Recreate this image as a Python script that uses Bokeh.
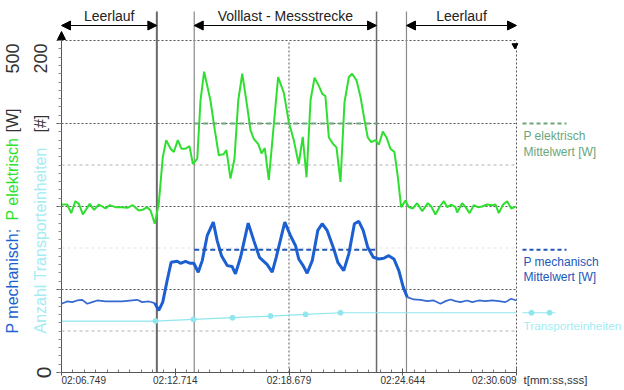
import numpy as np
from math import pi
from bokeh.plotting import figure
from bokeh.models import Range1d, FixedTicker, Label, Arrow, NormalHead
from bokeh.embed import file_html
from bokeh.resources import INLINE

# ---------------- data ----------------
tick_seconds = [0.0, 5.965, 11.93, 17.895, 23.86]
tick_labels = ["02:06.749", "02:12.714", "02:18.679", "02:24.644", "02:30.609"]

t_el = [0.00, 0.30, 0.51, 0.73, 0.91, 1.12, 1.48, 1.71, 1.96, 2.31,
        2.52, 2.83, 3.18, 3.45, 3.74, 4.05, 4.26, 4.49, 4.67, 4.89,
        5.10, 5.31, 5.49, 5.72, 5.89, 6.10, 6.29, 6.50, 6.71, 6.89,
        7.12, 7.29, 7.48, 7.81, 8.04, 8.25, 8.51, 8.65, 8.86, 9.07,
        9.27, 9.48, 9.74, 9.91, 10.08, 10.32, 10.49, 10.66, 10.87, 11.13,
        11.36, 11.66, 11.92, 12.18, 12.44, 12.65, 12.85, 13.06, 13.27, 13.49,
        13.67, 13.84, 14.02, 14.25, 14.42, 14.63, 14.84, 15.07, 15.24, 15.47,
        15.68, 15.89, 16.06, 16.24, 16.47, 16.64, 16.85, 17.04, 17.25, 17.46,
        17.64, 17.81, 18.04, 18.21, 18.42, 18.65, 18.92, 19.21, 19.39, 19.61,
        19.84, 20.05, 20.23, 20.44, 20.66, 20.75, 21.01, 21.19, 21.40, 21.62,
        21.83, 22.06, 22.32, 22.59, 22.76, 22.93, 23.16, 23.37, 23.58, 23.81]
p_el = [253, 253, 240, 258, 254, 238, 254, 245, 253, 247,
        252, 249, 249, 248, 252, 244, 245, 249, 244, 224,
        254, 324, 350, 337, 332, 350, 337, 337, 341, 314,
        322, 410, 453, 410, 365, 327, 329, 335, 292, 322,
        410, 450, 400, 365, 352, 344, 330, 338, 290, 372,
        445, 421, 377, 350, 314, 355, 294, 410, 444, 432,
        420, 416, 354, 344, 339, 287, 407, 445, 450, 440,
        415, 380, 354, 347, 350, 343, 363, 354, 337, 332,
        294, 249, 259, 249, 247, 255, 243, 255, 250, 238,
        250, 258, 249, 253, 249, 241, 255, 249, 240, 252,
        249, 250, 253, 252, 253, 240, 253, 258, 247, 250]

t_mech = [0.00, 0.30, 0.56, 0.82, 1.09, 1.35, 1.61, 1.87, 2.31, 3.18,
          3.97, 4.23, 4.58, 4.89, 5.10, 5.31, 5.54, 5.75, 6.07, 6.24,
          6.50, 6.76, 6.94, 7.17, 7.38, 7.64, 7.96, 8.16, 8.39, 8.69,
          8.95, 9.12, 9.39, 9.79, 10.08, 10.38, 10.79, 11.05, 11.26, 11.71,
          12.01, 12.27, 12.44, 12.67, 12.88, 13.15, 13.44, 13.67, 13.93, 14.28,
          14.49, 14.80, 15.07, 15.36, 15.59, 15.82, 16.06, 16.35, 16.64, 16.90,
          17.16, 17.43, 17.69, 17.92, 18.13, 18.47, 18.83, 19.18, 19.52, 19.87,
          20.14, 20.40, 20.66, 20.92, 21.27, 21.54, 21.88, 22.23, 22.59, 22.93,
          23.28, 23.58, 23.86]
p_mech = [103.5, 107, 106, 108.5, 109.5, 103.5, 106, 108.5, 107, 107,
          109.5, 106, 107, 104.5, 93.5, 106, 138.5, 166, 167.5, 164.5,
          167.5, 164.5, 164.5, 151, 168.5, 206, 226.5, 199, 176, 161,
          159.5, 148.5, 173.5, 225, 199, 173.5, 162.5, 151, 173.5, 226.5,
          206, 191, 171, 161, 149.5, 168.5, 214, 224, 214, 186,
          166, 153.5, 179, 224, 227.5, 214, 188.5, 173.5, 171, 172,
          176, 171, 153.5, 128.5, 113.5, 110, 109.5, 107.5, 108.5, 103.5,
          107.5, 110, 107.5, 106, 108.5, 106, 108.5, 107.5, 108.5, 107.5,
          106, 111, 108.5]

t_tu = [0.0, 4.93, 6.92, 8.97, 10.96, 12.80, 14.63, 23.86]
n_tu = [31, 31, 32, 33, 34, 35, 36, 36]
tu_marked = [1, 2, 3, 4, 5, 6]          # samples drawn with a dot

phase_bounds = [5.0, 6.96, 16.52, 18.09]
phase_names = ["Leerlauf", "Volllast - Messstrecke", "Leerlauf"]
phase_spans = [(0.0, 5.0), (6.96, 16.52), (18.09, 23.86)]

mean_el = 375
mean_mech = 185
mean_span = (6.96, 16.6)

P_MAX = 500
TU_MAX = 200

# ---------------- layout helpers ----------------
W, H = 624, 390
AX_LEFT, AX_RIGHT = 61, 516        # pixel columns of t=0 and t=T_END
AX_TOP, AX_BOTTOM = 40, 372        # pixel rows of P_MAX and 0
T_END = tick_seconds[-1]
ppx = (AX_RIGHT - AX_LEFT) / T_END
ppw = (AX_BOTTOM - AX_TOP) / P_MAX


def rx(win_x):      # pixel column -> seconds
    return (win_x - AX_LEFT) / ppx


def ry(win_y):      # pixel row -> watts
    return (AX_BOTTOM - win_y) / ppw


FONT = "Liberation Sans"
GREEN = "#2fdf2f"
BLUE = "#1b5fd0"
BLUE_IDLE = "#3569cf"
CYAN = "#8fe6ee"
CYAN_TXT = "#a3ecf2"
MEAN_GREEN = "#6aa67a"
MEAN_BLUE = "#2057b8"
DARK = "#333333"

p = figure(width=W, height=H, x_range=Range1d(rx(0), rx(W)), y_range=Range1d(ry(H), ry(0)),
           output_backend="svg", toolbar_location=None,
           min_border_left=0, min_border_right=0, min_border_top=0, min_border_bottom=0)
p.extra_y_ranges = {"tu": Range1d(ry(H) * TU_MAX / P_MAX, ry(0) * TU_MAX / P_MAX)}
p.outline_line_color = None
p.grid.visible = False
p.background_fill_color = "white"
p.border_fill_color = "white"

# axes (placed inside the canvas at t=0 / P=0)
minor_x = []
for a, b in zip(tick_seconds[:-1], tick_seconds[1:]):
    minor_x += list(np.linspace(a, b, 11)[1:-1])
xax = p.xaxis[0]
xax.fixed_location = 0
xax.ticker = FixedTicker(ticks=tick_seconds, minor_ticks=minor_x)
xax.bounds = (0, T_END)
xax.major_label_overrides = {t: "" for t in tick_seconds}
xax.major_tick_in = 4
xax.major_tick_out = 3
xax.minor_tick_in = 3
xax.minor_tick_out = 0
xax.axis_line_color = "#555555"
xax.major_tick_line_color = "#555555"
xax.minor_tick_line_color = "#777777"

y_major = [0, 125, 250, 375, 500]
yax = p.yaxis[0]
yax.fixed_location = 0
yax.ticker = FixedTicker(ticks=y_major, minor_ticks=list(np.arange(0, P_MAX + 1, 12.5)))
yax.bounds = (0, P_MAX)
yax.major_label_overrides = {v: "" for v in y_major}
yax.major_tick_in = 0
yax.major_tick_out = 5
yax.minor_tick_in = 0
yax.minor_tick_out = 3
yax.axis_line_color = "#555555"
yax.major_tick_line_color = "#555555"
yax.minor_tick_line_color = "#888888"

# grid lines
dark_levels = [125, 250, 375, 500]
light_levels = [62.5, 187.5, 312.5]
light_colors = ["#b0b0b0", "#e2e2e2", "#b0b0b0"]
p.segment(x0=[0] * 4, x1=[T_END] * 4, y0=dark_levels, y1=dark_levels,
          line_color="#555555", line_dash="2 2", line_width=1)
p.segment(x0=[0] * 3, x1=[T_END] * 3, y0=light_levels, y1=light_levels,
          line_color=light_colors, line_dash="3 3", line_width=1)
vgrid = [tick_seconds[2], tick_seconds[4]]
p.segment(x0=vgrid, x1=vgrid, y0=[0, 0], y1=[P_MAX, P_MAX],
          line_color="#555555", line_dash="2 2", line_width=1)

# phase boundaries
p.segment(x0=phase_bounds, x1=phase_bounds, y0=[0] * 4, y1=[ry(11)] * 4,
          line_color=["#6a6a6a", "#8a8a8a", "#6a6a6a", "#8a8a8a"],
          line_width=[2, 1.2, 1.5, 1.2])

# phase arrows + names
for (a, b), name in zip(phase_spans, phase_names):
    p.add_layout(Arrow(x_start=a, x_end=b, y_start=ry(25), y_end=ry(25),
                       start=NormalHead(size=9, fill_color="black", line_color="black"),
                       end=NormalHead(size=9, fill_color="black", line_color="black"),
                       line_color="black", line_width=1))
    p.add_layout(Label(x=(a + b) / 2, y=ry(15), text=name, text_align="center",
                       text_baseline="middle", text_font=FONT, text_font_size="14px",
                       text_color="#222222"))

# y-axis arrow head and right marker
p.add_layout(Arrow(x_start=0, x_end=0, y_start=P_MAX, y_end=ry(31), start=None,
                   end=NormalHead(size=8, fill_color="black", line_color="black"),
                   line_color="#555555", line_width=1))
p.scatter([rx(AX_RIGHT - 1.5)], [ry(45)], marker="inverted_triangle", size=6, color="black")

# transport units (secondary scale)
p.line(t_tu, n_tu, y_range_name="tu", line_color=CYAN, line_width=1.2)
p.scatter([t_tu[i] for i in tu_marked], [n_tu[i] for i in tu_marked], y_range_name="tu",
          size=5, color=CYAN)

# electrical power
p.line(t_el, p_el, line_color=GREEN, line_width=2)

# mechanical power (thicker in the load phase)
tm = np.array(t_mech)
pm = np.array(p_mech)
idle1 = tm <= 4.9
load = (tm >= 4.89) & (tm <= 18.14)
idle2 = tm >= 18.13
p.line(tm[idle1], pm[idle1], line_color=BLUE_IDLE, line_width=1.7)
p.line(tm[idle2], pm[idle2], line_color=BLUE_IDLE, line_width=1.7)
p.line(tm[load], pm[load], line_color=BLUE, line_width=3)

# means
p.line(list(mean_span), [mean_el, mean_el], line_color=MEAN_GREEN, line_dash="5 4", line_width=2)
p.line(list(mean_span), [mean_mech, mean_mech], line_color=MEAN_BLUE, line_dash="5 3", line_width=2)

# right-hand legend
lx0, lx1 = rx(522), rx(566)
p.line([lx0, lx1], [mean_el, mean_el], line_color=MEAN_GREEN, line_dash="4 3", line_width=2)
p.line([lx0, lx1], [mean_mech, mean_mech], line_color=MEAN_BLUE, line_dash="4 3", line_width=2)
p.line([lx0, rx(555)], [n_tu[-1], n_tu[-1]], y_range_name="tu", line_color=CYAN, line_width=1.2)
p.scatter([rx(531), rx(549)], [n_tu[-1], n_tu[-1]], y_range_name="tu", size=5, color=CYAN)


def legend_text(txt, y, color, size="12px"):
    p.add_layout(Label(x=rx(523), y=y, text=txt, text_align="left", text_baseline="middle",
                       text_font=FONT, text_font_size=size, text_color=color))


legend_text("P elektrisch", ry(135), MEAN_GREEN)
legend_text("Mittelwert [W]", ry(151), MEAN_GREEN)
legend_text("P mechanisch", ry(261), MEAN_BLUE)
legend_text("Mittelwert [W]", ry(276), MEAN_BLUE)
legend_text("Transporteinheiten", ry(325), CYAN_TXT, size="11.8px")

# x tick labels and axis title
for i, (t, lab) in enumerate(zip(tick_seconds, tick_labels)):
    align = "left" if i == 0 else ("right" if i == len(tick_seconds) - 1 else "center")
    p.add_layout(Label(x=t, y=ry(374), text=lab, text_align=align, text_baseline="top",
                       text_font=FONT, text_font_size="10px", text_color=DARK))
p.add_layout(Label(x=rx(523), y=ry(373), text="t[mm:ss,sss]", text_align="left",
                   text_baseline="top", text_font=FONT, text_font_size="11.5px",
                   text_color=DARK))


# rotated left titles
def vtext(txt, x, y, color, size="16px", align="left"):
    p.add_layout(Label(x=x, y=y, text=txt, angle=pi / 2, text_align=align,
                       text_baseline="middle", text_font=FONT, text_font_size=size,
                       text_color=color))


c1, c2 = rx(12), rx(40)
vtext("P mechanisch;", c1, ry(333), BLUE)
vtext("P elektrisch", c1, ry(220), GREEN)
vtext("[W]", c1, ry(132), DARK)
vtext("Anzahl Transporteinheiten", c2, ry(333), CYAN_TXT)
vtext("[#]", c2, ry(132), DARK)
vtext(str(P_MAX), c1, ry(73), DARK, size="18px")
vtext(str(TU_MAX), c2, ry(73), DARK, size="18px")
vtext("0", rx(43), 0, DARK, size="21px", align="center")

open("out.html", "w").write(file_html(p, INLINE))
